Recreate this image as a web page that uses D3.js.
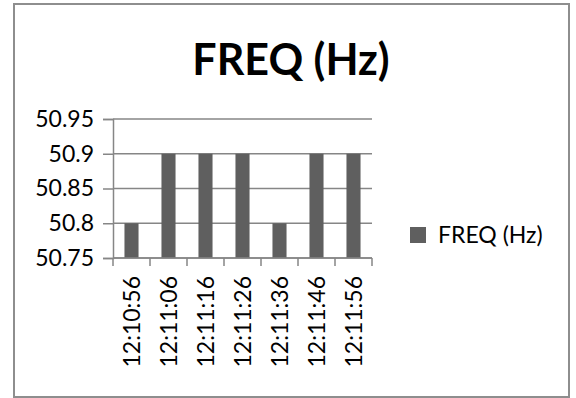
<!DOCTYPE html>
<html>
<head>
<meta charset="utf-8">
<script src="https://cdn.jsdelivr.net/npm/d3@7"></script>
<style>
  html, body { margin: 0; padding: 0; background: #fff; }
  svg { display: block; }
  text { font-family: Lato, "Open Sans", sans-serif; fill: #000; }
</style>
</head>
<body>
<svg id="chart" width="576" height="398"></svg>
<script>
// Sampled frequency readings
const times = ["12:10:56", "12:11:06", "12:11:16", "12:11:26", "12:11:36", "12:11:46", "12:11:56"];
const freq = [50.8, 50.9, 50.9, 50.9, 50.8, 50.9, 50.9];
const yTicks = [50.75, 50.8, 50.85, 50.9, 50.95];
const seriesName = "FREQ (Hz)";
const title = "FREQ (Hz)";

const svg = d3.select("#chart");
const gridColor = "#868686";
const barColor = "#5f5f5f";
const labelSize = "23px";

// chart frame
svg.append("rect")
  .attr("x", 14).attr("y", 4)
  .attr("width", 555).attr("height", 393)
  .attr("fill", "#fff")
  .attr("stroke", "#8e8e8e")
  .attr("stroke-width", 2);

// title
svg.append("text")
  .attr("x", 291).attr("y", 75)
  .attr("text-anchor", "middle")
  .style("font-size", "43px")
  .style("font-weight", "700")
  .text(title);

const plot = { left: 113, right: 372, top: 119, bottom: 258 };

const x = d3.scaleBand()
  .domain(times)
  .range([plot.left, plot.right])
  .paddingInner(0.62)
  .paddingOuter(0.31);

const y = d3.scaleLinear()
  .domain([50.75, 50.95])
  .range([plot.bottom, plot.top]);

// horizontal gridlines
svg.append("g")
  .selectAll("line")
  .data(yTicks)
  .join("line")
  .attr("x1", plot.left).attr("x2", plot.right)
  .attr("y1", d => y(d)).attr("y2", d => y(d))
  .attr("stroke", gridColor)
  .attr("stroke-width", 1.5);

// bars
svg.append("g")
  .selectAll("rect")
  .data(times.map((t, i) => ({ t, v: freq[i] })))
  .join("rect")
  .attr("x", d => x(d.t))
  .attr("width", x.bandwidth())
  .attr("y", d => y(d.v))
  .attr("height", d => y(50.75) - y(d.v))
  .attr("fill", barColor);

// y axis
const yAxis = svg.append("g")
  .attr("transform", `translate(${plot.left},0)`)
  .call(d3.axisLeft(y).tickValues(yTicks).tickSize(10).tickPadding(9)
    .tickFormat(d => String(+d.toFixed(2))));
yAxis.select(".domain").attr("stroke", gridColor).attr("stroke-width", 1.5);
yAxis.selectAll(".tick line").attr("stroke", gridColor).attr("stroke-width", 1.5);
yAxis.selectAll(".tick text")
  .style("font-family", "Lato, sans-serif")
  .style("font-size", labelSize)
  .attr("fill", "#000");

// x axis: ticks sit on category boundaries, labels rotated
const step = x.step();
const edges = times.map(t => x(t) - (step - x.bandwidth()) / 2).concat([plot.right]);
const xg = svg.append("g");
xg.append("line")
  .attr("x1", plot.left).attr("x2", plot.right)
  .attr("y1", plot.bottom).attr("y2", plot.bottom)
  .attr("stroke", gridColor).attr("stroke-width", 1.5);
xg.selectAll("line.edge")
  .data(edges)
  .join("line")
  .attr("class", "edge")
  .attr("x1", d => d).attr("x2", d => d)
  .attr("y1", plot.bottom).attr("y2", plot.bottom + 8)
  .attr("stroke", gridColor).attr("stroke-width", 1.5);

const xAxis = svg.append("g")
  .attr("transform", `translate(0,${plot.bottom})`)
  .call(d3.axisBottom(x).tickSize(0).tickPadding(0));
xAxis.select(".domain").remove();
xAxis.selectAll(".tick text")
  .attr("transform", "rotate(-90)")
  .attr("x", -18)
  .attr("y", 0)
  .attr("dy", "0.35em")
  .attr("text-anchor", "end")
  .style("font-family", "Lato, sans-serif")
  .style("font-size", labelSize)
  .attr("fill", "#000");

// legend
const lg = svg.append("g").attr("transform", "translate(410,227)");
lg.append("rect").attr("width", 16).attr("height", 16).attr("fill", barColor);
lg.append("text")
  .attr("x", 28).attr("y", 16)
  .style("font-size", labelSize)
  .text(seriesName);
</script>
</body>
</html>
